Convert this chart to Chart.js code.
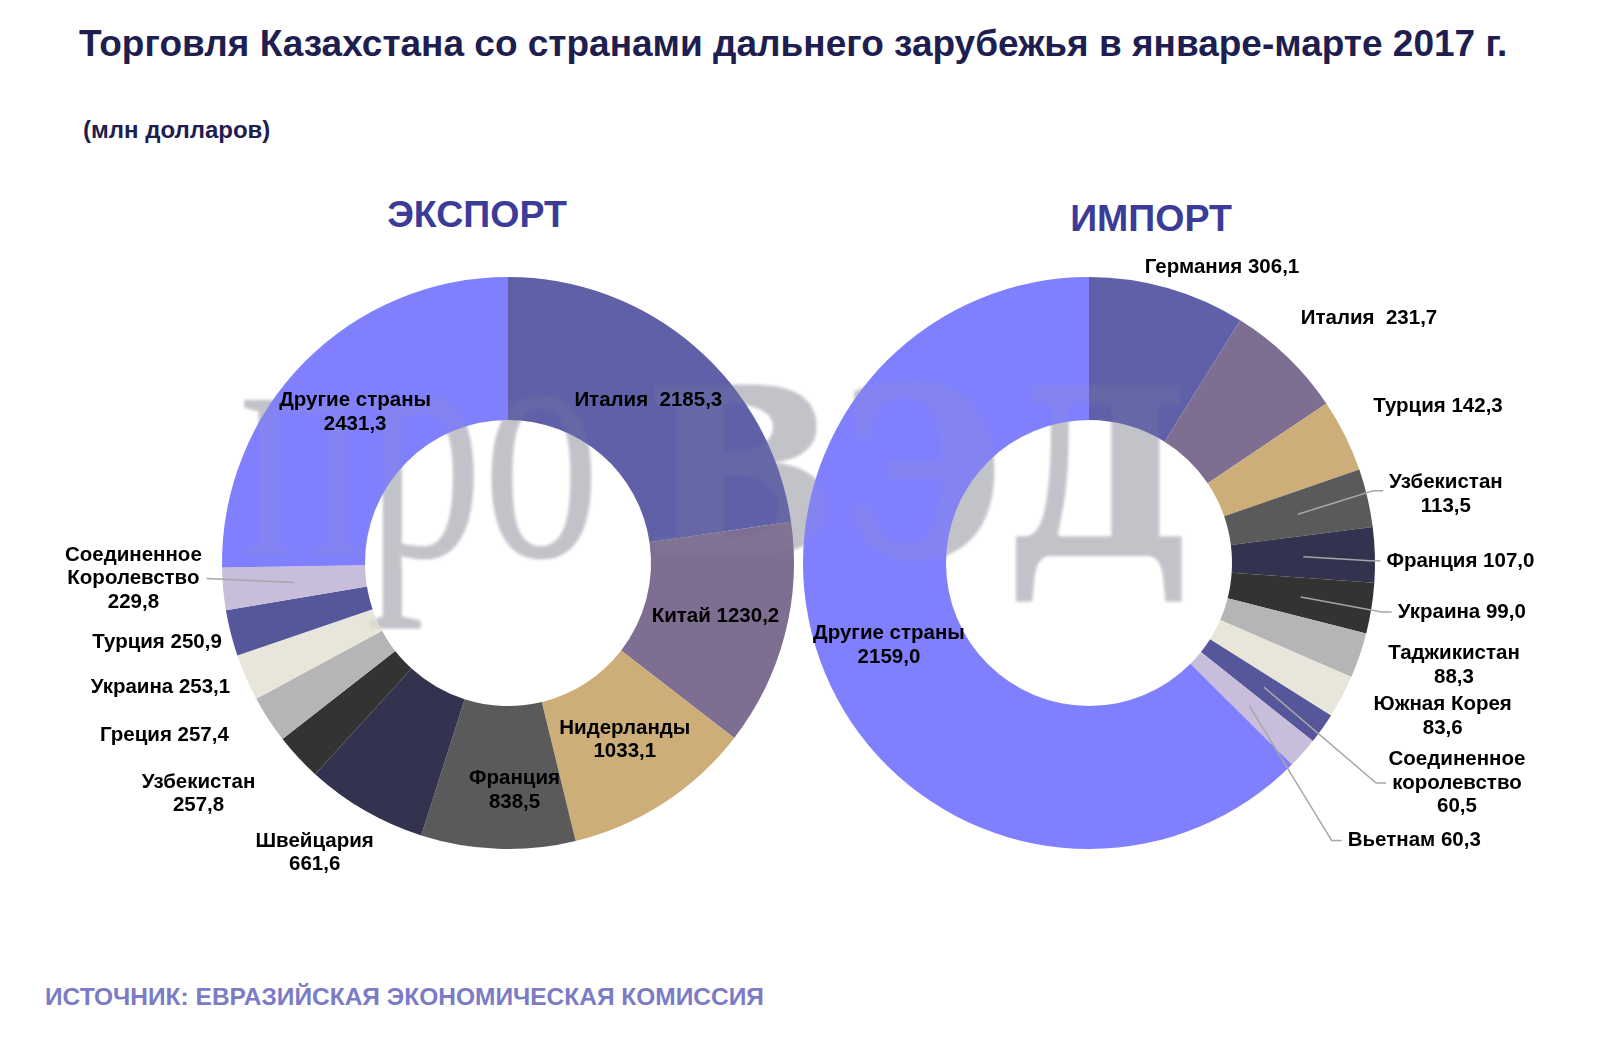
<!DOCTYPE html>
<html lang="ru">
<head>
<meta charset="utf-8">
<script src="https://cdn.jsdelivr.net/npm/chart.js@4.4.1/dist/chart.umd.min.js"></script>
<style>
  body { margin: 0; width: 1600px; height: 1052px; background: #fff; position: relative; overflow: hidden;
         font-family: "Liberation Sans", Arial, sans-serif; }
  .txt { position: absolute; white-space: nowrap; font-weight: bold; line-height: 1; }
  #title { left: 79px; top: 25px; font-size: 37px; color: #1e1e50; }
  #units { left: 83px; top: 118px; font-size: 24px; color: #1e1e50; }
  .head { font-size: 37.5px; color: #3b3b98; width: 400px; text-align: center; }
  #expHead { left: 277px; top: 196px; }
  #impHead { left: 951px; top: 200px; }
  #source { left: 45px; top: 985px; font-size: 24.5px; color: #7b7bc6; }
  canvas { position: absolute; }
</style>
</head>
<body>
<div class="txt" id="title">Торговля Казахстана со странами дальнего зарубежья в январе-марте 2017 г.</div>
<div class="txt" id="units">(млн долларов)</div>
<div class="txt head" id="expHead">ЭКСПОРТ</div>
<div class="txt head" id="impHead">ИМПОРТ</div>
<div class="txt" id="source">ИСТОЧНИК: ЕВРАЗИЙСКАЯ ЭКОНОМИЧЕСКАЯ КОМИССИЯ</div>

<canvas id="exportChart" width="800" height="700" style="left:0;top:230px"></canvas>
<canvas id="importChart" width="800" height="700" style="left:800px;top:230px"></canvas>

<script>
// export, million USD, clockwise from 12 o'clock
const exportCountries = ['Италия', 'Китай', 'Нидерланды', 'Франция', 'Швейцария', 'Узбекистан',
  'Греция', 'Украина', 'Турция', 'Соединенное Королевство', 'Другие страны'];
const exportValues = [2185.3, 1230.2, 1033.1, 838.5, 661.6, 257.8, 257.4, 253.1, 250.9, 229.8, 2431.3];

// import, million USD
const importCountries = ['Германия', 'Италия', 'Турция', 'Узбекистан', 'Франция', 'Украина',
  'Таджикистан', 'Южная Корея', 'Соединенное королевство', 'Вьетнам', 'Другие страны'];
const importValues = [306.1, 231.7, 142.3, 113.5, 107.0, 99.0, 88.3, 83.6, 60.5, 60.3, 2159.0];

// same palette order for both rings
const sliceColors = ['#5f60a8', '#7e6e91', '#cdae78', '#5a5a5a', '#33334f', '#333333',
  '#b5b5b5', '#e8e5da', '#55579a', '#c8bedc', '#8080ff'];

const LINE_H = 23.5;

// label placement: offset from the middle of the slice, text mode, leader line
const exportLabelLayout = [
  { dx: 0, dy: 0, mode: 'one', sep: '  ' },
  { dx: 0, dy: -1, mode: 'one' },
  { dx: 0, dy: -3, mode: 'two' },
  { dx: 14, dy: 13, mode: 'two' },
  { dx: -86, dy: 104, mode: 'two' },
  { dx: -152, dy: 85, mode: 'two' },
  { dx: -164, dy: 55, mode: 'one' },
  { dx: -151, dy: 38, mode: 'one' },
  { dx: -143, dy: 27, mode: 'one' },
  { dx: -161, dy: -4, mode: 'split', leader: 'right', row: 1 },
  { dx: 0, dy: 0, mode: 'two' }
];

const importLabelLayout = [
  { dx: 74, dy: -89, mode: 'one' },
  { dx: 131, dy: -90, mode: 'one', sep: '  ' },
  { dx: 157, dy: -61, mode: 'one' },
  { dx: 148, dy: -20, mode: 'two', leader: 'left', row: 0.35 },
  { dx: 157, dy: 4, mode: 'one', leader: 'left', row: 0 },
  { dx: 161, dy: 15, mode: 'one', leader: 'left', row: 0 },
  { dx: 162, dy: 33, mode: 'two' },
  { dx: 164, dy: 53, mode: 'two' },
  { dx: 193, dy: 96, mode: 'split', leader: 'left', row: 1 },
  { dx: 165, dy: 135, mode: 'one', leader: 'left', row: 0 },
  { dx: -2, dy: 0, mode: 'two' }
];

function fmt(v) {
  return v.toFixed(1).replace('.', ',');
}

function labelLines(name, value, lay) {
  if (lay.mode === 'one') return [name + (lay.sep || ' ') + fmt(value)];
  if (lay.mode === 'split') return name.split(' ').concat([fmt(value)]);
  return [name, fmt(value)];
}

// site watermark across both charts, drawn in page coordinates
function drawWatermark(ctx, pageX, pageY, color) {
  ctx.save();
  ctx.translate(-pageX, -pageY);
  ctx.filter = 'blur(1.5px)';
  ctx.fillStyle = color;
  ctx.textBaseline = 'alphabetic';
  ctx.font = '340px "Liberation Serif", "Times New Roman", serif';
  let w = ctx.measureText('про').width;
  ctx.save();
  ctx.translate(240, 556);
  ctx.scale(360 / w, 1);
  ctx.fillText('про', 0, 0);
  ctx.restore();
  ctx.font = 'bold 330px "DejaVu Serif", "Liberation Serif", serif';
  w = ctx.measureText('вэд').width;
  ctx.translate(646, 556);
  ctx.scale(545 / w, 1);
  ctx.fillText('вэд', 0, 0);
  ctx.restore();
}

const sliceLabels = {
  id: 'sliceLabels',
  beforeDatasetsDraw(chart, args, opts) {
    drawWatermark(chart.ctx, opts.pageX, opts.pageY, '#cacad0');
  },
  afterDatasetsDraw(chart, args, opts) {
    const ctx = chart.ctx;
    drawWatermark(ctx, opts.pageX, opts.pageY, 'rgba(150, 150, 165, 0.14)');

    const meta = chart.getDatasetMeta(0);
    const values = chart.data.datasets[0].data;
    const names = chart.data.labels;
    ctx.save();
    ctx.font = 'bold 20.5px "Liberation Sans", Arial, sans-serif';
    ctx.textAlign = 'center';
    ctx.textBaseline = 'middle';
    meta.data.forEach((arc, i) => {
      const p = arc.getProps(['x', 'y', 'startAngle', 'endAngle', 'innerRadius', 'outerRadius'], true);
      const mid = (p.startAngle + p.endAngle) / 2;
      const r = (p.innerRadius + p.outerRadius) / 2;
      const ax = p.x + Math.cos(mid) * r;
      const ay = p.y + Math.sin(mid) * r;
      const lay = opts.layout[i];
      const lines = labelLines(names[i], values[i], lay);
      const cx = ax + lay.dx;
      const cy = ay + lay.dy;
      const top = cy - (lines.length - 1) * LINE_H / 2;

      if (lay.leader) {
        const row = Math.floor(lay.row);
        const rowY = top + lay.row * LINE_H;
        const half = ctx.measureText(lines[row]).width / 2;
        ctx.strokeStyle = '#a6a6a6';
        ctx.lineWidth = 1.5;
        ctx.beginPath();
        ctx.moveTo(ax, ay);
        if (lay.leader === 'left') {
          ctx.lineTo(cx - half - 16, rowY);
          ctx.lineTo(cx - half - 6, rowY);
        } else {
          ctx.lineTo(cx + half + 7, rowY);
        }
        ctx.stroke();
      }

      ctx.fillStyle = '#000';
      lines.forEach((s, k) => ctx.fillText(s, cx, top + k * LINE_H));
    });
    ctx.restore();
  }
};

function makeDonut(id, countries, values, layout, padding, pageX, pageY) {
  return new Chart(document.getElementById(id), {
    type: 'doughnut',
    data: {
      labels: countries,
      datasets: [{
        data: values,
        backgroundColor: sliceColors,
        borderWidth: 0
      }]
    },
    options: {
      responsive: false,
      animation: false,
      devicePixelRatio: 1,
      cutout: '50%',
      layout: { padding: padding },
      plugins: {
        legend: { display: false },
        tooltip: { enabled: false },
        sliceLabels: { layout: layout, pageX: pageX, pageY: pageY }
      }
    },
    plugins: [sliceLabels]
  });
}

makeDonut('exportChart', exportCountries, exportValues, exportLabelLayout,
  { left: 222, right: 6, top: 47, bottom: 81 }, 0, 230);
makeDonut('importChart', importCountries, importValues, importLabelLayout,
  { left: 3, right: 225, top: 47, bottom: 81 }, 800, 230);
</script>
</body>
</html>
